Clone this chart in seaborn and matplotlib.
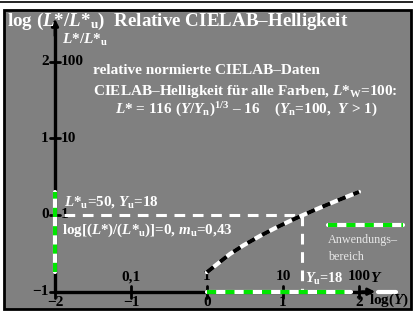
import numpy as np
import matplotlib.pyplot as plt
import seaborn as sns
from matplotlib.patches import Rectangle

# Relative CIELAB lightness: Y (luminance factor) and L*
Y = [1, 2, 3, 5, 8, 12, 18, 25, 35, 50, 70, 100]
L = [8.99, 15.49, 20.04, 26.74, 33.98, 41.22, 49.50, 57.08, 65.75, 76.07, 87.0, 100.0]
L_u = 50
Y_u = 18

# application range (log Y and log L*/L*u)
range_x = [0, 1.9]
range_y = [-0.745, 0.301]

x_ticks = [-2, -1, 0, 1, 2]
x_bottom_labels = ['−2', '−1', '0', '1', '2']
x_top_labels = ['', '0,1', '1', '10', '100']
y_ticks = [-1, 0, 1, 2]
y_left_labels = ['−1', '0', '1', '2']
y_right_labels = ['', '1', '10', '100']

sns.set_style("white")
plt.rcParams['font.family'] = ['Liberation Serif', 'DejaVu Serif']
plt.rcParams['font.weight'] = 'bold'
plt.rcParams['mathtext.fontset'] = 'custom'
plt.rcParams['mathtext.rm'] = 'Liberation Serif:bold'
plt.rcParams['mathtext.it'] = 'Liberation Serif:italic:bold'
plt.rcParams['mathtext.bf'] = 'Liberation Serif:bold'

W, H = 413, 316
fig = plt.figure(figsize=(W / 100, H / 100), dpi=100)
ax = fig.add_axes([0, 0, 1, 1])

# pixel -> data helpers (x: 76 px per unit, origin at px 207; y: 76.7 px per unit, origin at px 215)
def dx(px):
    return (px - 207) / 76.0

def dy(py):
    return (215 - py) / 76.7

ax.set_xlim(dx(0), dx(W))
ax.set_ylim(dy(H), dy(0))
ax.axis('off')

# frame
ax.plot([dx(0), dx(W)], [dy(2), dy(2)], color='black', lw=1.2, zorder=1)
ax.add_patch(Rectangle((dx(4), dy(309)), dx(411) - dx(4), dy(10) - dy(309),
                       facecolor='#808080', edgecolor='black', lw=2, zorder=0))

white = 'white'
green = '#00e600'

# axes with arrows
ax.plot([-2, -2], [-1, 2.45], color='black', lw=2.4, zorder=3)
ax.annotate('', xy=(-2, dy(16)), xytext=(-2, 2.3),
            arrowprops=dict(arrowstyle='-|>', color='black', lw=2, mutation_scale=10), zorder=3)
ax.plot([-2, 2.15], [-1, -1], color='black', lw=2.4, zorder=3)
ax.annotate('', xy=(dx(378), -1), xytext=(2.0, -1),
            arrowprops=dict(arrowstyle='-|>', color='black', lw=2, mutation_scale=10), zorder=3)
ax.plot([dx(378), dx(396)], [-1, -1], color=white, lw=3, zorder=3)

# tick marks
for t in y_ticks:
    ax.plot([-2.07, -1.93], [t, t], color='black', lw=2, zorder=4)
for t in x_ticks:
    ax.plot([t, t], [-1.08, -0.92], color='black', lw=2, zorder=4)

# application range on both axes
ax.plot([-2, -2], range_y, color=white, lw=3, zorder=5)
ax.plot([-2, -2], range_y, color=green, lw=3, dashes=(2.2, 2.2), zorder=6)
ax.plot(range_x, [-1, -1], color=white, lw=3, zorder=5)
ax.plot(range_x, [-1, -1], color=green, lw=3, dashes=(2.2, 2.2), zorder=6)

# reference lines at L*u, Yu
ax.plot([dx(64), np.log10(Y_u)], [0, 0], color=white, lw=2.2, dashes=(3.5, 2.5), zorder=4)
ax.plot([np.log10(Y_u)] * 2, [0, -1], color=white, lw=2.2, dashes=(3.5, 2.5), zorder=4)

# curve
lx = np.log10(Y)
ly = np.log10(np.array(L) / L_u)
sns.lineplot(x=lx, y=ly, ax=ax, color=white, lw=3, sort=False, zorder=7)
sns.lineplot(x=lx, y=ly, ax=ax, color='black', lw=3, dashes=False, sort=False, zorder=8,
             linestyle=(0, (2, 2)))

# legend
ax.plot([dx(328), dx(403)], [dy(225)] * 2, color=white, lw=3, zorder=5)
ax.plot([dx(328), dx(403)], [dy(225)] * 2, color=green, lw=3, dashes=(2.2, 2.2), zorder=6)
ax.text(dx(328), dy(240), 'Anwendungs–', color='#e8e8e8', fontsize=8.7, fontweight='normal', va='center')
ax.text(dx(328), dy(257), 'bereich', color='#e8e8e8', fontsize=8.7, fontweight='normal', va='center')

# tick labels
for t, lab in zip(y_ticks, y_left_labels):
    ax.text(-2.08, t, lab, color='black', fontsize=11, ha='right', va='center')
for t, lab in zip(y_ticks, y_right_labels):
    ax.text(-1.92, t, lab, color='black', fontsize=11, ha='left', va='center')
for t, lab in zip(x_ticks, x_bottom_labels):
    ax.text(t, dy(303), lab, color='black', fontsize=11, ha='center', va='center')
for t, lab in zip(x_ticks, x_top_labels):
    ax.text(t, dy(277), lab, color='black', fontsize=11, ha='center', va='center')
ax.text(dx(376), dy(278), '$Y$', color='black', fontsize=11, ha='center', va='center')
ax.text(dx(409), dy(300), 'log($Y$)', color='black', fontsize=11, ha='right', va='center')
ax.text(dx(62), dy(40), '$L$*/$L$*$_{\\mathrm{u}}$', color=white, fontsize=11, ha='left', va='center')

# texts
ax.text(dx(7), dy(21), 'log ($L$*/$L$*$_{\\mathrm{u}}$)  Relative CIELAB–Helligkeit',
        color=white, fontsize=13.7, ha='left', va='center')
ax.text(dx(93), dy(71), 'relative normierte CIELAB–Daten', color=white, fontsize=11, va='center')
ax.text(dx(93), dy(91), 'CIELAB–Helligkeit für alle Farben, $L$*$_{\\mathrm{W}}$=100:',
        color=white, fontsize=11, va='center')
ax.text(dx(115), dy(110), '$L$* = 116 ($Y$/$Y_{\\mathrm{n}}$)$^{1/3}$ – 16    ($Y_{\\mathrm{n}}$=100,  $Y$ > 1)',
        color=white, fontsize=11, va='center')
ax.text(dx(64), dy(202), '$L$*$_{\\mathrm{u}}$=50, $Y_{\\mathrm{u}}$=18', color=white, fontsize=10.8, va='center')
ax.text(dx(62), dy(230), 'log[($L$*)/($L$*$_{\\mathrm{u}}$)]=0, $m_{\\mathrm{u}}$=0,43',
        color=white, fontsize=10.8, va='center')
ax.text(dx(305), dy(279), '$Y_{\\mathrm{u}}$=18', color=white, fontsize=10.3, va='center')

fig.savefig('out.png', dpi=100)
